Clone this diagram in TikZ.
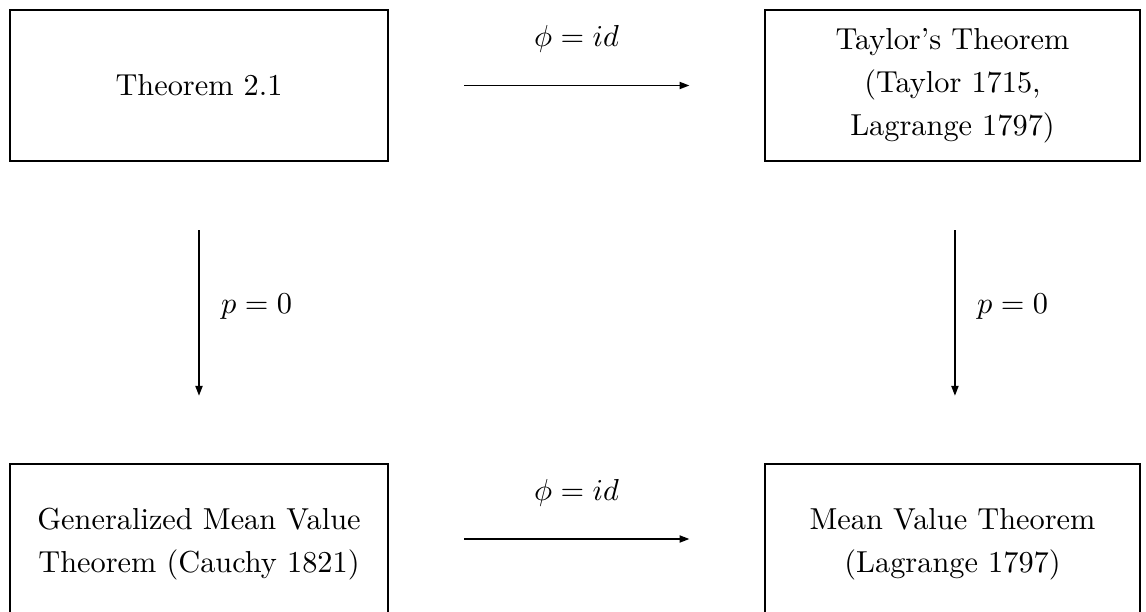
\documentclass[tikz,border=0pt]{standalone}
\usetikzlibrary{arrows.meta}
\begin{document}
\begin{tikzpicture}[x=0.3295pt,y=-0.3295pt,
  thmbox/.style={draw,line width=0.9pt,inner sep=0pt,align=center,
    font={\fontsize{10}{14.2}\selectfont}},
  maparrow/.style={line width=0.65pt,-{Triangle[length=3.3pt,width=2.3pt]}},
  lbl/.style={inner sep=0pt}]
\useasboundingbox (0,0) rectangle (1146,611);
\node[thmbox,minimum width=124.5pt,minimum height=49.75pt] (t21) at (199,85.5) {Theorem 2.1};
\node[thmbox,minimum width=123.6pt,minimum height=49.75pt] (tay) at (952.5,85.5) {Taylor's Theorem\\(Taylor 1715,\\Lagrange 1797)};
\node[thmbox,minimum width=124.5pt,minimum height=52.7pt] (gmv) at (199,544) {Generalized Mean Value\\Theorem (Cauchy 1821)};
\node[thmbox,minimum width=123.6pt,minimum height=52.7pt] (mvt) at (952.5,544) {Mean Value Theorem\\(Lagrange 1797)};
\draw[maparrow,shorten <=24.7pt,shorten >=24.4pt] (t21.east) -- (t21.east -| tay.west) node[midway,lbl,yshift=15.2pt] {$\phi=id$};
\draw[maparrow,shorten <=24.7pt,shorten >=24.4pt] (gmv.east |- 0,539) -- (mvt.west |- 0,539) node[midway,lbl,yshift=15.2pt] {$\phi=id$};
\draw[maparrow,shorten <=22.4pt,shorten >=22pt] (t21.south) -- (gmv.north) node[midway,lbl,right,xshift=7pt,yshift=2pt] {$p=0$};
\draw[maparrow,shorten <=22.4pt,shorten >=22pt] ([xshift=0.8pt]tay.south) -- ([xshift=0.8pt]mvt.north) node[midway,lbl,right,xshift=7pt,yshift=2pt] {$p=0$};
\end{tikzpicture}
\end{document}
